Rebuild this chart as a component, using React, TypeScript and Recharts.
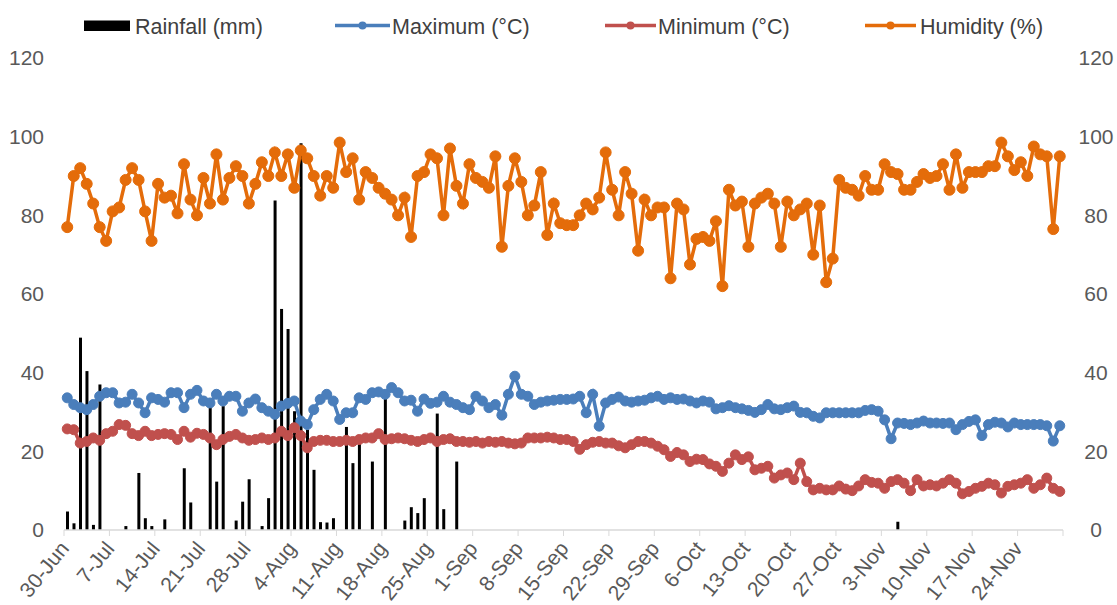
import React from 'react';
import { ComposedChart, Bar, Line, XAxis, YAxis, Legend } from 'recharts';

const MONTHS: [string, number, number][] = [
  ['Jun', 30, 30],
  ['Jul', 1, 31],
  ['Aug', 1, 31],
  ['Sep', 1, 30],
  ['Oct', 1, 31],
  ['Nov', 1, 30],
];

const dates: string[] = [];
MONTHS.forEach(([m, a, b]) => {
  for (let d = a; d <= b; d++) dates.push(`${d}-${m}`);
});

const rainfall = [
  4.7, 1.7, 48.9, 40.4, 1.3, 37, 0, 0, 0, 1, 0, 14.5, 3, 1, 0, 2.7, 0, 0, 15.7, 7,
  0, 0, 32.3, 12.3, 31.5, 0, 2.4, 7.2, 12.9, 0, 1, 8.1, 83.8, 56.2, 51.1, 30.2, 98.3, 25.5, 15.3, 2,
  1.9, 3, 0, 26.2, 17, 22.1, 0, 17.4, 0, 33.4, 0, 0, 2.4, 5.8, 4.3, 8.1, 0, 29.6, 5.3, 0,
  17.4, 0, 0, 0, 0, 0, 0, 0, 0, 0, 0, 0, 0, 0, 0, 0, 0, 0, 0, 0,
  0, 0, 0, 0, 0, 0, 0, 0, 0, 0, 0, 0, 0, 0, 0, 0, 0, 0, 0, 0,
  0, 0, 0, 0, 0, 0, 0, 0, 0, 0, 0, 0, 0, 0, 0, 0, 0, 0, 0, 0,
  0, 0, 0, 0, 0, 0, 0, 0, 2.1, 0, 0, 0, 0, 0, 0, 0, 0, 0, 0, 0,
  0, 0, 0, 0, 0, 0, 0, 0, 0, 0, 0, 0, 0, 0,
];

const maximum = [
  33.6, 31.9, 31.1, 30.6, 31.9, 34, 34.9, 34.9, 32.3, 32.5, 34.5, 32.3, 29.8, 33.6, 33.2, 32.5, 34.9, 34.9, 31.1, 34.5,
  35.5, 32.8, 32.3, 34.5, 32.8, 34, 34, 30.2, 32.3, 33.3, 31.1, 30.2, 29.4, 31.5, 32.2, 32.8, 27.7, 26.8, 30.6, 33.2,
  34.5, 32.8, 28.1, 29.8, 29.8, 33.6, 33.2, 34.9, 35.1, 34.5, 36.2, 34.9, 32.8, 33, 30.2, 33.3, 32.2, 32.5, 34, 32.5,
  31.9, 31.1, 30.6, 34, 32.8, 31.1, 31.9, 29.2, 34.5, 39.1, 34.5, 34, 31.9, 32.5, 32.8, 33, 33.2, 33.2, 33.3, 34,
  29.8, 34.5, 26.4, 32.3, 33.2, 33.8, 32.8, 32.5, 32.8, 33, 33.6, 34, 33.2, 33.6, 33.2, 33.3, 32.8, 32.3, 32.8, 32.5,
  30.8, 31.1, 31.6, 31.1, 30.8, 30.4, 29.9, 30.6, 31.9, 30.8, 30.6, 31.1, 31.5, 29.9, 29.8, 28.9, 28.5, 29.8, 29.8, 29.8,
  29.8, 29.8, 29.8, 30.4, 30.6, 30.2, 28.0, 23.2, 27.2, 27.1, 26.8, 27.2, 27.7, 27.2, 27.2, 27.1, 27.2, 25.5, 26.8, 27.6,
  28.0, 24.0, 26.8, 27.4, 27.2, 26.2, 27.2, 26.8, 26.8, 26.8, 26.8, 26.5, 22.6, 26.5,
];

const minimum = [
  25.7, 25.5, 22.1, 22.5, 23.4, 22.8, 24.5, 25.1, 26.8, 26.6, 24.5, 24, 25.1, 24, 24.3, 24.5, 24.3, 23, 25.1, 23.6,
  24.6, 24.3, 23.4, 21.7, 23, 23.8, 24.3, 23.4, 22.8, 23, 23.4, 23, 23.4, 25.1, 24, 26, 24, 20.9, 22.5, 22.8,
  22.8, 22.5, 22.5, 22.8, 22.5, 23, 23.4, 23.4, 24.5, 23, 23.2, 23.4, 23.2, 22.8, 22.5, 23, 23.4, 22.5, 23, 23.2,
  22.5, 22.5, 22.3, 22.5, 22.1, 22.5, 22.3, 22.5, 22.1, 21.9, 22.1, 23.4, 23.4, 23.4, 23.6, 23.4, 23, 23, 22.5, 20.5,
  21.7, 22.3, 22.5, 22.1, 22.1, 21.4, 20.9, 21.7, 22.5, 22.5, 22.1, 21.3, 20.4, 18.7, 19.7, 19.1, 17.4, 18, 17.9, 16.8,
  16.2, 14.9, 17, 19.1, 17.9, 18.6, 15.3, 15.7, 16.2, 13.2, 14, 14.5, 12.8, 17, 12.3, 10.2, 10.6, 10.2, 10.2, 11.2,
  10.4, 10, 11.2, 12.8, 12.1, 11.9, 10.6, 12.3, 12.8, 11.9, 10, 12.8, 11.2, 11.5, 11.2, 11.9, 12.8, 11.9, 9.2, 9.8,
  10.6, 11.1, 11.9, 11.5, 9.4, 11.1, 11.5, 11.9, 12.8, 10.6, 11.5, 13.2, 10.6, 9.8,
];

const humidity = [
  77, 90, 92, 88, 83, 77, 73.5, 81, 82, 89, 92, 89, 81, 73.5, 88, 84.5, 85, 80.5, 93, 84,
  80, 89.5, 83, 95.5, 84, 89.5, 92.5, 90, 83, 88, 93.5, 90, 96, 90, 95.5, 87, 96.5, 94.5, 90, 85,
  90, 87, 98.5, 91, 94.5, 84, 91, 89.5, 87, 85.5, 84, 80, 84.5, 74.5, 90, 91, 95.5, 94.5, 80, 97,
  87.5, 83, 93, 89.5, 88.5, 87, 95, 72, 87.5, 94.5, 88.5, 80, 82.5, 91, 75, 83, 78, 77.5, 77.5, 80,
  83, 81.5, 84.5, 96, 86.5, 80, 91, 85.5, 71, 84, 80, 82, 82, 64, 83, 81.5, 67.5, 74, 74.5, 73.5,
  78.5, 62, 86.5, 82.5, 83.5, 72, 83, 84.5, 85.5, 83, 72, 83.5, 80, 81.5, 83, 70, 82.5, 63, 69, 89,
  87, 86.5, 85, 90, 86.5, 86.5, 93, 91, 90.5, 86.5, 86.5, 88.5, 90.5, 89.5, 90, 93, 86.5, 95.5, 87, 91,
  91, 91, 92.5, 92.5, 98.5, 95, 91.5, 93.5, 90, 97.5, 95.5, 95, 76.5, 95,
];

const yTicks = [0, 20, 40, 60, 80, 100, 120];

const data = dates.map((date, i) => ({
  date,
  rain: rainfall[i],
  max: maximum[i],
  min: minimum[i],
  hum: humidity[i],
}));

const W = 1117;
const H = 605;
const LEFT_W = 64;
const RIGHT_W = 54;
const PLOT_W = W - LEFT_W - RIGHT_W;
const BW = PLOT_W / dates.length;
const FONT = '"Liberation Sans", Arial, sans-serif';
const BLUE = '#4A7EBB';
const RED = '#C0504D';
const ORANGE = '#E46C0A';
const AXIS = '#D9D9D9';
const TXT = '#595959';

function XTick(props: any) {
  const { x, y, index, payload } = props;
  const isMajor = index % 7 === 0;
  const last = index === dates.length - 1;
  if (!isMajor && !last) return <g />;
  return (
    <g>
      {isMajor && <line x1={x - BW / 2} x2={x - BW / 2} y1={y} y2={y + 6} stroke={AXIS} strokeWidth={1} />}
      {last && <line x1={x + BW / 2} x2={x + BW / 2} y1={y} y2={y + 6} stroke={AXIS} strokeWidth={1} />}
      {isMajor && (
        <text
          transform={`translate(${x - BW / 2 + 6},${y + 19}) rotate(-51)`}
          textAnchor="end"
          fontSize={21}
          fontFamily={FONT}
          fill={TXT}
        >
          {payload.value}
        </text>
      )}
    </g>
  );
}

function LegendContent() {
  const ty = 33.5;
  const cy = 25.5;
  const item = (x1: number, x2: number, color: string, label: string, tx: number) => (
    <g key={label}>
      <line x1={x1} x2={x2} y1={cy} y2={cy} stroke={color} strokeWidth={3.5} />
      <circle cx={(x1 + x2) / 2} cy={cy} r={4} fill={color} />
      <text x={tx} y={ty} fontSize={21.5} fontFamily={FONT} fill="#404040">{label}</text>
    </g>
  );
  return (
    <svg width={W} height={50} style={{ display: 'block' }}>
      <rect x={84} y={20.5} width={46} height={10.5} fill="#000" />
      <text x={135} y={ty} fontSize={21.5} fontFamily={FONT} fill="#404040">Rainfall (mm)</text>
      {item(335, 390, BLUE, 'Maximum (°C)', 392)}
      {item(605, 656, RED, 'Minimum (°C)', 658)}
      {item(865, 916, ORANGE, 'Humidity (%)', 920)}
    </svg>
  );
}

export default function App() {
  return (
    <div style={{ position: 'absolute', left: 0, top: 0, width: W, height: H, background: '#fff' }}>
      <ComposedChart width={W} height={H} data={data} margin={{ top: 58, right: 0, bottom: 0, left: 0 }}>
        <XAxis
          dataKey="date"
          interval={0}
          height={75}
          tickSize={0}
          tickMargin={0}
          tickLine={false}
          axisLine={{ stroke: AXIS, strokeWidth: 1.5 }}
          tick={<XTick />}
        />
        <YAxis
          yAxisId="left"
          orientation="left"
          width={LEFT_W}
          domain={[0, 120]}
          ticks={yTicks}
          axisLine={false}
          tickLine={false}
          tickMargin={14}
          tick={{ fill: TXT, fontSize: 21, fontFamily: FONT }}
        />
        <YAxis
          yAxisId="right"
          orientation="right"
          width={RIGHT_W}
          domain={[0, 120]}
          ticks={yTicks}
          axisLine={false}
          tickLine={false}
          tickMargin={27}
          tick={{ fill: TXT, fontSize: 21, fontFamily: FONT, textAnchor: 'middle' }}
        />
        <Legend
          layout="horizontal"
          verticalAlign="middle"
          align="center"
          wrapperStyle={{ top: 0, left: 0, width: W, height: 50 }}
          content={<LegendContent />}
        />
        <Bar yAxisId="left" dataKey="rain" name="Rainfall (mm)" fill="#000" barSize={3} isAnimationActive={false} />
        <Line
          yAxisId="left"
          type="linear"
          dataKey="max"
          name="Maximum (°C)"
          stroke={BLUE}
          strokeWidth={3.5}
          dot={{ r: 5, fill: BLUE, stroke: BLUE, strokeWidth: 1 }}
          activeDot={false}
          isAnimationActive={false}
        />
        <Line
          yAxisId="left"
          type="linear"
          dataKey="min"
          name="Minimum (°C)"
          stroke={RED}
          strokeWidth={3.5}
          dot={{ r: 5, fill: RED, stroke: RED, strokeWidth: 1 }}
          activeDot={false}
          isAnimationActive={false}
        />
        <Line
          yAxisId="right"
          type="linear"
          dataKey="hum"
          name="Humidity (%)"
          stroke={ORANGE}
          strokeWidth={3.5}
          dot={{ r: 5.5, fill: ORANGE, stroke: ORANGE, strokeWidth: 1 }}
          activeDot={false}
          isAnimationActive={false}
        />
      </ComposedChart>
    </div>
  );
}
